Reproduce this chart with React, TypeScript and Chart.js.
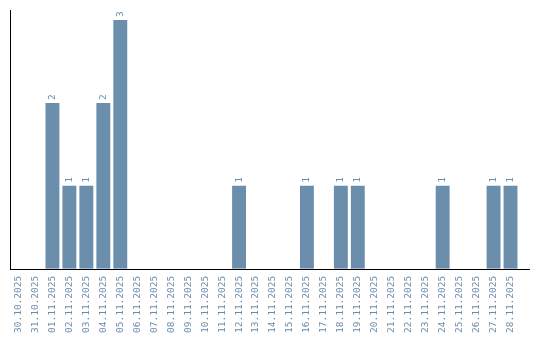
import React, { useEffect, useRef } from "react";
import { Chart, registerables } from "chart.js";

Chart.register(...registerables);

const categories: string[] = [
  "30.10.2025", "31.10.2025", "01.11.2025", "02.11.2025", "03.11.2025",
  "04.11.2025", "05.11.2025", "06.11.2025", "07.11.2025", "08.11.2025",
  "09.11.2025", "10.11.2025", "11.11.2025", "12.11.2025", "13.11.2025",
  "14.11.2025", "15.11.2025", "16.11.2025", "17.11.2025", "18.11.2025",
  "19.11.2025", "20.11.2025", "21.11.2025", "22.11.2025", "23.11.2025",
  "24.11.2025", "25.11.2025", "26.11.2025", "27.11.2025", "28.11.2025",
];

const counts: number[] = [
  0, 0, 2, 1, 1,
  2, 3, 0, 0, 0,
  0, 0, 0, 1, 0,
  0, 0, 1, 0, 1,
  1, 0, 0, 0, 0,
  1, 0, 0, 1, 1,
];

const BAR = "rgb(107,142,172)";
const TEXT = "rgb(106,140,172)";
const FONT = "'DejaVu Sans Mono', monospace";

const valueLabels = {
  id: "valueLabels",
  afterDatasetsDraw(chart: any) {
    const ctx = chart.ctx;
    const meta = chart.getDatasetMeta(0);
    const data = chart.data.datasets[0].data as number[];
    ctx.save();
    ctx.fillStyle = TEXT;
    ctx.font = `9.5px ${FONT}`;
    ctx.textAlign = "left";
    ctx.textBaseline = "middle";
    meta.data.forEach((bar: any, i: number) => {
      const v = data[i];
      if (!v) return;
      ctx.save();
      ctx.translate(bar.x, bar.y - 3);
      ctx.rotate(-Math.PI / 2);
      ctx.fillText(String(v), 0, 0);
      ctx.restore();
    });
    ctx.restore();
  },
};

const axisLine = {
  id: "axisLine",
  afterDraw(chart: any) {
    const { ctx, chartArea } = chart;
    ctx.save();
    ctx.strokeStyle = "#000";
    ctx.lineWidth = 1;
    ctx.beginPath();
    ctx.moveTo(chartArea.left, Math.round(chartArea.bottom) + 0.5);
    ctx.lineTo(chartArea.right + 11, Math.round(chartArea.bottom) + 0.5);
    ctx.stroke();
    ctx.restore();
  },
};

export default function App() {
  const ref = useRef<HTMLCanvasElement | null>(null);
  useEffect(() => {
    if (!ref.current) return;
    const chart = new Chart(ref.current, {
      type: "bar",
      data: {
        labels: categories,
        datasets: [
          {
            data: counts,
            backgroundColor: BAR,
            borderWidth: 0,
            categoryPercentage: 1,
            barPercentage: 0.82,
          },
        ],
      },
      options: {
        animation: false,
        responsive: true,
        maintainAspectRatio: false,
        layout: { padding: { left: 10, top: 10, right: 21, bottom: 0 } },
        plugins: { legend: { display: false }, tooltip: { enabled: false } },
        scales: {
          x: {
            grid: { display: false, drawTicks: false },
            border: { display: false },
            ticks: {
              color: TEXT,
              font: { family: FONT, size: 9.5 },
              minRotation: 90,
              maxRotation: 90,
              autoSkip: false,
              padding: 7,
            },
          },
          y: {
            min: 0,
            max: Math.max(...counts) * 1.04,
            grid: { display: false, drawTicks: false },
            border: { display: true, color: "#000", width: 1 },
            ticks: { display: false },
          },
        },
      },
      plugins: [valueLabels, axisLine],
    });
    return () => chart.destroy();
  }, []);
  return (
    <div style={{ position: "fixed", left: 0, top: 0, width: 540, height: 340 }}>
      <canvas ref={ref} />
    </div>
  );
}
